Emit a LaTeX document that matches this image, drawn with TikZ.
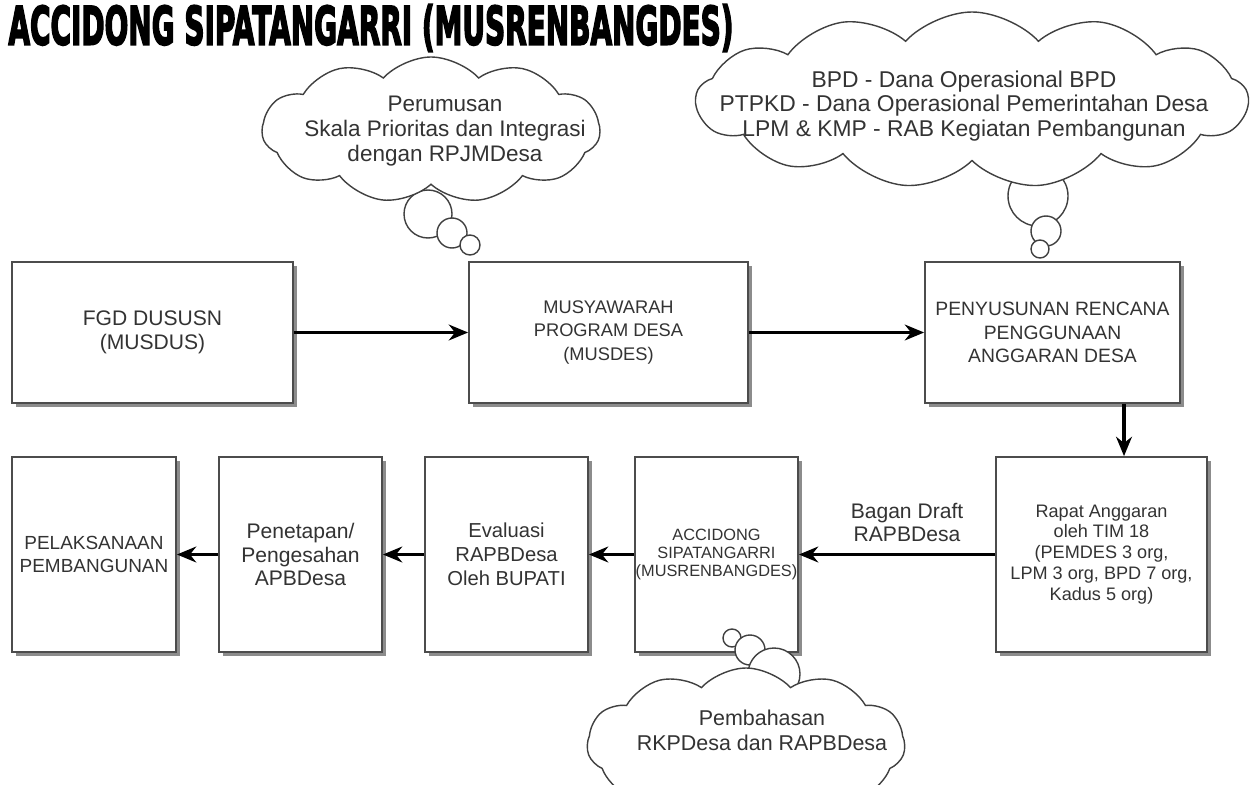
\documentclass[tikz,border=0pt]{standalone}
\usepackage{fontspec}
\setmainfont{Liberation Sans}
\newfontfamily\titlefont{DejaVu Sans}[FakeBold=4]
\usetikzlibrary{shapes.symbols,arrows.meta,shadows,positioning}
\newdimen\px \px=0.02cm

\begin{document}
\begin{tikzpicture}[x=0.02cm, y=-0.02cm]
			\tikzstyle{Box}		= [rectangle, draw=black!70, line width=1pt, fill=white, text=black!80, align=center, inner sep=2pt, drop shadow={shadow xshift=2.2pt, shadow yshift=-2.2pt, fill=black!45, opacity=1}]
			\tikzstyle{Cloud}	= [cloud, draw=black!75, line width=0.8pt, fill=white, cloud puff arc=95, inner sep=0pt]
			\tikzstyle{CloudText}	= [text=black!80, align=center, inner sep=0pt]
			\tikzstyle{Puff}	= [circle, draw=black!75, line width=0.8pt, fill=white, inner sep=0pt]
			\tikzstyle{Arrow}	= [-{Stealth[length=11pt, width=9pt]}, line width=1.8pt, black]
			\tikzstyle{Title}	= [inner sep=0pt, font=\titlefont\bfseries\fontsize{30}{30}\selectfont, xscale=0.53]

			\useasboundingbox (0, 0) rectangle (1250, 784);
			\node (title) at (371, 28) [Title] {ACCIDONG SIPATANGARRI (MUSRENBANGDES)};

			% top row
			\node (fgd) at (152.5, 332.5) [Box, minimum width=281\px, minimum height=141\px, font=\fontsize{12}{13.5}\selectfont] {FGD DUSUSN\\(MUSDUS)};
			\node (musdes) at (608.5, 332.5) [Box, minimum width=279\px, minimum height=141\px, font=\fontsize{10.4}{13.3}\selectfont] {MUSYAWARAH\\PROGRAM DESA\\(MUSDES)};
			\node (penyusunan) at (1052.5, 332.5) [Box, minimum width=255\px, minimum height=141\px, font=\fontsize{11}{13.3}\selectfont] {PENYUSUNAN RENCANA\\PENGGUNAAN\\ANGGARAN DESA};

			% bottom row
			\node (rapat) at (1101.5, 554.5) [Box, minimum width=211\px, minimum height=195\px, font=\fontsize{10.3}{11.9}\selectfont] {Rapat Anggaran\\oleh TIM 18\\(PEMDES 3 org,\\LPM 3 org, BPD 7 org,\\Kadus 5 org)};
			\node (accidong) at (716.5, 554.5) [Box, minimum width=163\px, minimum height=195\px, inner sep=0pt, font=\fontsize{9.3}{10.5}\selectfont] {ACCIDONG\\SIPATANGARRI\\(MUSRENBANGDES)};
			\node (evaluasi) at (506.5, 554.5) [Box, minimum width=163\px, minimum height=195\px, font=\fontsize{11.5}{13.6}\selectfont] {Evaluasi\\RAPBDesa\\Oleh BUPATI};
			\node (penetapan) at (300.5, 554.5) [Box, minimum width=163\px, minimum height=195\px, font=\fontsize{12}{13.3}\selectfont] {Penetapan/\\Pengesahan\\APBDesa};
			\node (pelaksanaan) at (94, 554.5) [Box, minimum width=164\px, minimum height=195\px, font=\fontsize{10.8}{13}\selectfont] {PELAKSANAAN\\PEMBANGUNAN};

			% arrows
			\coordinate (drop) at (1124, 430);
			\draw [Arrow] (fgd) to (musdes);
			\draw [Arrow] (musdes) to (penyusunan);
			\draw [Arrow] (drop |- penyusunan.south) to (drop |- rapat.north);
			\draw [Arrow] (rapat) to node (bagan) [above=5\px, xshift=10\px, align=center, text=black!80, font=\fontsize{12}{13.3}\selectfont] {Bagan Draft\\RAPBDesa} (accidong);
			\draw [Arrow] (accidong) to (evaluasi);
			\draw [Arrow] (evaluasi) to (penetapan);
			\draw [Arrow] (penetapan) to (pelaksanaan);

			% thought clouds
			\node (p1a) at (428, 214) [Puff, minimum size=48\px] {};
			\node (p1b) at (452, 233) [Puff, minimum size=30\px] {};
			\node (p1c) at (470, 245) [Puff, minimum size=20\px] {};
			\node (c1) at (431, 130) [Cloud, cloud puffs=11, aspect=2.3, minimum width=338\px, minimum height=146\px] {};
			\node (perumusan) at (445, 131) [CloudText, font=\fontsize{12.8}{14.2}\selectfont] {Perumusan\\Skala Prioritas dan Integrasi\\dengan RPJMDesa};

			\node (p2a) at (1038, 196) [Puff, minimum size=60\px] {};
			\node (p2b) at (1046, 231) [Puff, minimum size=30\px] {};
			\node (p2c) at (1040, 249) [Puff, minimum size=18\px] {};
			\node (c2) at (972, 100) [Cloud, cloud puffs=13, aspect=3.1, minimum width=552\px, minimum height=176\px] {};
			\node (dana) at (964, 106) [CloudText, font=\fontsize{13}{13.8}\selectfont] {BPD - Dana Operasional BPD\\PTPKD - Dana Operasional Pemerintahan Desa\\LPM \& KMP - RAB Kegiatan Pembangunan};

			\node (p3a) at (732, 638) [Puff, minimum size=18\px] {};
			\node (p3b) at (750, 650) [Puff, minimum size=30\px] {};
			\node (p3c) at (774, 674) [Puff, minimum size=52\px] {};
			\node (c3) at (746, 744) [Cloud, cloud puffs=11, aspect=2.2, minimum width=318\px, minimum height=152\px] {};
			\node (pembahasan) at (762, 730) [CloudText, font=\fontsize{12.2}{14.2}\selectfont] {Pembahasan\\RKPDesa dan RAPBDesa};
		\end{tikzpicture}
\end{document}
